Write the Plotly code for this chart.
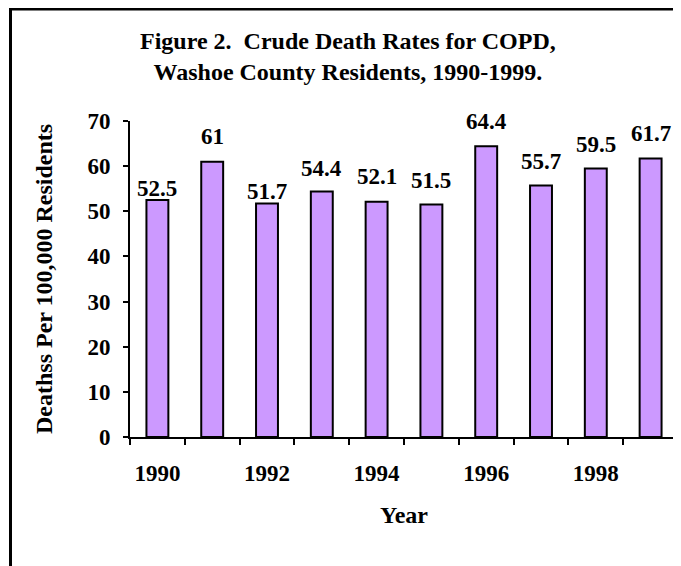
import plotly.graph_objects as go

years = ["1990", "1991", "1992", "1993", "1994", "1995", "1996", "1997", "1998", "1999"]
rates = [52.5, 61, 51.7, 54.4, 52.1, 51.5, 64.4, 55.7, 59.5, 61.7]
tick_labels = ["1990", "", "1992", "", "1994", "", "1996", "", "1998", ""]
y_ticks = [0, 10, 20, 30, 40, 50, 60, 70]

title_text = "Figure 2.  Crude Death Rates for COPD,<br>Washoe County Residents, 1990-1999."
y_title = "Deathss Per 100,000 Residents"
x_title = "Year"

FONT = "Liberation Serif, Times New Roman, serif"
OFF = 8  # page body margin offset
W, H = 681 - OFF, 566 - OFF
# plot area in window pixels
PX0, PX1, PY0, PY1 = 130, 678, 121, 437
L, R, T, B = PX0 - OFF, W - (PX1 - OFF), PY0 - OFF, H - (PY1 - OFF)
PW, PH = PX1 - PX0, PY1 - PY0


def px(x):
    return (x - PX0) / PW


def py(y):
    return (PY1 - y) / PH


# vertical pixel offset of each value label above its bar (style only)
label_gap = [12, 25, 12, 23, 25, 24, 25, 24, 24, 25]

fig = go.Figure()
fig.add_trace(go.Bar(
    x=years, y=rates, width=0.4,
    marker=dict(color="#CC99FF", line=dict(color="black", width=2)),
    hoverinfo="x+y",
))

for i, (v, g) in enumerate(zip(rates, label_gap)):
    fig.add_annotation(
        x=i, y=v, xref="x", yref="y", text=f"{v:g}", showarrow=False,
        yanchor="middle", yshift=g,
        font=dict(family=FONT, size=23, color="black", weight=700),
    )

fig.add_annotation(
    x=px(348), y=py(56.5), xref="paper", yref="paper",
    text=title_text, showarrow=False, xanchor="center", yanchor="middle",
    font=dict(family=FONT, size=24, color="black", weight=700),
)
fig.add_annotation(
    x=px(44), y=0.5, xref="paper", yref="paper", text=y_title,
    showarrow=False, textangle=-90, xanchor="center", yanchor="middle",
    font=dict(family=FONT, size=24, color="black", weight=700),
)
fig.add_annotation(
    x=0.5, y=py(515), xref="paper", yref="paper", text=x_title,
    showarrow=False, xanchor="center", yanchor="middle",
    font=dict(family=FONT, size=24, color="black", weight=700),
)

# outer frame
fig.add_shape(
    type="rect", xref="paper", yref="paper",
    x0=px(10.5), x1=px(720),
    y0=py(620), y1=py(9),
    line=dict(color="black", width=3), fillcolor="rgba(0,0,0,0)", layer="below",
)

fig.update_layout(
    width=W, height=H,
    margin=dict(l=L, r=R, t=T, b=B, pad=0),
    paper_bgcolor="white", plot_bgcolor="white",
    showlegend=False,
    font=dict(family=FONT, size=23, color="black", weight=700),
    bargap=0.6,
)
fig.update_xaxes(
    type="category", range=[-0.5, 9.5],
    tickmode="array", tickvals=years, ticktext=tick_labels, tickangle=0,
    tickson="boundaries", ticks="outside", ticklen=6, tickwidth=2, tickcolor="black",
    showline=True, linecolor="black", linewidth=2, showgrid=False,
    ticklabelstandoff=14,
    tickfont=dict(family=FONT, size=23, color="black", weight=700),
)
fig.update_yaxes(
    range=[0, 70], tickvals=y_ticks,
    ticks="outside", ticklen=5, tickwidth=2, tickcolor="black",
    showline=True, linecolor="black", linewidth=2, showgrid=False, zeroline=False,
    ticklabelstandoff=8,
    tickfont=dict(family=FONT, size=23, color="black", weight=700),
)

fig.write_html("out.html")
